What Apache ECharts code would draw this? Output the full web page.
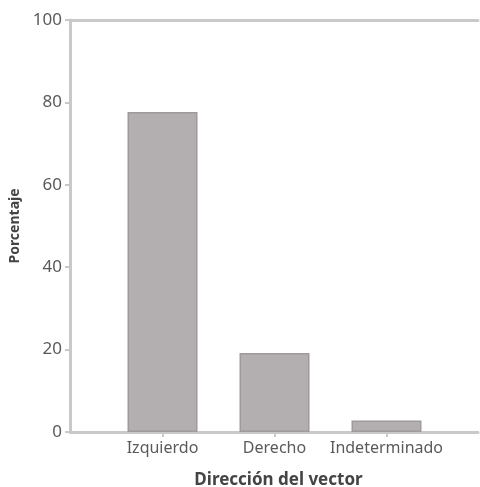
<!DOCTYPE html>
<html><head><meta charset="utf-8">
<script src="https://cdn.jsdelivr.net/npm/echarts@6/dist/echarts.min.js"></script>
<style>html,body{margin:0;padding:0;background:#fff}#c{width:480px;height:487px}</style>
</head><body><div id="c"></div>
<script>
var categories = ['Izquierdo', 'Derecho', 'Indeterminado'];
var values = [77.7, 19.2, 2.8];
var yTicks = [0, 20, 40, 60, 80, 100];

var chart = echarts.init(document.getElementById('c'), null, {renderer: 'canvas'});
var font = 'Noto Sans, DejaVu Sans, sans-serif';
var positions = categories.map(function (c, i) { return i; });
chart.setOption({
  animation: false,
  grid: {left: 70, top: 20, right: 2, bottom: 55, containLabel: false, outerBoundsMode: 'none'},
  xAxis: [{
    type: 'value', min: -0.826, max: 2.817,
    name: 'Dirección del vector', nameLocation: 'middle', nameGap: 40,
    nameTextStyle: {color: '#444', fontSize: 17, fontWeight: 'bold', fontFamily: font, padding: [0, 0, 0, 9]},
    axisLine: {show: true, onZero: false, lineStyle: {color: '#cbc8c9', width: 3}},
    axisTick: {show: true, customValues: positions, length: 5, lineStyle: {color: '#cbc8c9', width: 2}},
    axisLabel: {show: true, customValues: positions, color: '#5a5a5a', fontSize: 16, fontFamily: font, margin: 8,
      formatter: function (v) { return categories[Math.round(v)] || ''; }},
    splitLine: {show: false}
  }, {
    type: 'value', min: -0.826, max: 2.817, position: 'top',
    axisLine: {show: true, onZero: false, lineStyle: {color: '#cbc8c9', width: 3}},
    axisTick: {show: false}, axisLabel: {show: false}, splitLine: {show: false}
  }],
  yAxis: {
    type: 'value', min: yTicks[0], max: yTicks[yTicks.length - 1], interval: yTicks[1] - yTicks[0],
    name: 'Porcentaje', nameLocation: 'middle', nameGap: 42,
    nameTextStyle: {color: '#444', fontSize: 14, fontWeight: 'bold', fontFamily: font},
    axisLine: {show: true, onZero: false, lineStyle: {color: '#cbc8c9', width: 3}},
    axisTick: {show: true, length: 5, lineStyle: {color: '#cbc8c9', width: 2}},
    axisLabel: {color: '#5a5a5a', fontSize: 17, fontFamily: font, margin: 8},
    splitLine: {show: false}
  },
  series: [{
    type: 'bar', xAxisIndex: 0, barWidth: 70,
    data: values.map(function (v, i) { return [positions[i], v]; }),
    itemStyle: {color: '#b3aeb0', borderColor: '#9f999b', borderWidth: 1.5}
  }]
});
</script></body></html>
